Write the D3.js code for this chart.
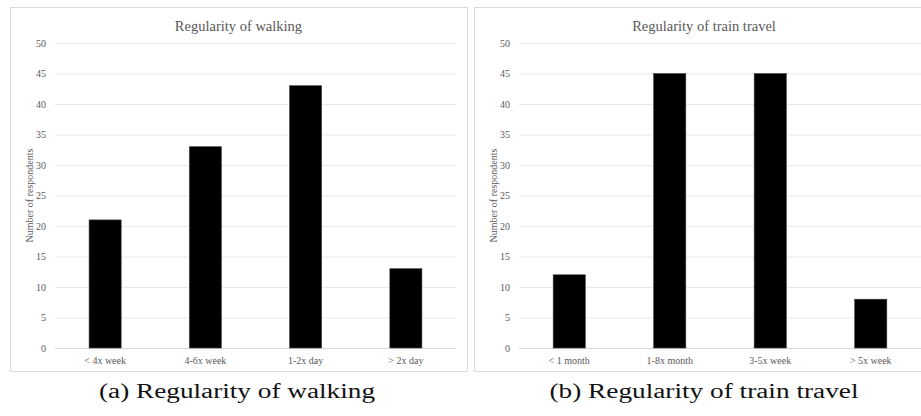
<!DOCTYPE html>
<html>
<head>
<meta charset="utf-8">
<script src="https://cdn.jsdelivr.net/npm/d3@7"></script>
<style>
  body { margin: 0; background: #fff; }
  svg { display: block; }
  svg text { font-family: "Liberation Serif", "Times New Roman", "DejaVu Serif", serif; }
</style>
</head>
<body>
<svg id="chart" width="921" height="416"></svg>
<script>
// data
const walkCategories = ["< 4x week", "4-6x week", "1-2x day", "> 2x day"];
const walkValues = [21, 33, 43, 13];
const trainCategories = ["< 1 month", "1-8x month", "3-5x week", "> 5x week"];
const trainValues = [12, 45, 45, 8];
const yTicks = [0, 5, 10, 15, 20, 25, 30, 35, 40, 45, 50];

const SERIF = "'Liberation Serif', 'Times New Roman', serif";
const svg = d3.select("#chart");

function drawPanel(opts) {
    const box = opts.box,
        plot = { left: box.x + 45, right: opts.plotRight, top: 43, bottom: 348 },
        g = svg.append("g");

    // chart frame
    g.append("rect")
        .attr("x", box.x + 0.5)
        .attr("y", box.y + 0.5)
        .attr("width", box.w)
        .attr("height", box.h)
        .attr("fill", "#fff")
        .attr("stroke", "#d9d9d9");

    const x = d3.scaleBand()
        .domain(opts.categories)
        .range([plot.left, plot.right])
        .paddingInner(0.68)
        .paddingOuter(0.34);

    const y = d3.scaleLinear()
        .domain([0, 50])
        .range([plot.bottom, plot.top]);

    // gridlines + tick labels
    const yAxis = g.append("g")
        .attr("transform", "translate(" + plot.left + ",0)")
        .call(d3.axisLeft(y).tickValues(yTicks).tickSize(-(plot.right - plot.left)).tickPadding(9));
    yAxis.attr("font-family", null);
    yAxis.select(".domain").remove();
    yAxis.selectAll(".tick line")
        .attr("stroke", d => d === 0 ? "#d9d9d9" : "#e8e8e8")
        .attr("stroke-width", 1);
    yAxis.selectAll(".tick text")
        .attr("fill", "#595959")
        .style("font-size", "10px")
        .style("font-family", SERIF);

    // bars
    g.append("g")
        .selectAll("rect")
        .data(opts.values)
        .enter()
        .append("rect")
        .attr("x", (d, i) => x(opts.categories[i]))
        .attr("y", d => y(d))
        .attr("width", x.bandwidth())
        .attr("height", d => y(0) - y(d))
        .attr("fill", "#000")
        .attr("stroke", "#404040")
        .attr("stroke-width", 0.6);

    // category labels
    const xAxis = g.append("g")
        .attr("transform", "translate(0," + plot.bottom + ")")
        .call(d3.axisBottom(x).tickSize(0).tickPadding(9));
    xAxis.attr("font-family", null);
    xAxis.select(".domain").remove();
    xAxis.selectAll(".tick text")
        .attr("fill", "#595959")
        .style("font-size", "10px")
        .style("font-family", SERIF);

    // title
    g.append("text")
        .attr("x", box.x + box.w / 2)
        .attr("y", 31)
        .attr("text-anchor", "middle")
        .attr("fill", "#595959")
        .style("font-family", SERIF)
        .style("font-size", "14.5px")
        .text(opts.title);

    // y label
    g.append("text")
        .attr("transform", "rotate(-90)")
        .attr("x", -(plot.top + plot.bottom) / 2)
        .attr("y", box.x + 23)
        .attr("text-anchor", "middle")
        .attr("fill", "#595959")
        .style("font-family", SERIF)
        .style("font-size", "10px")
        .text("Number of respondents");

    // caption under the frame (LaTeX style, wider than Times)
    g.append("text")
        .attr("x", opts.captionX)
        .attr("y", 398)
        .attr("text-anchor", "middle")
        .attr("fill", "#111")
        .attr("textLength", opts.captionW)
        .attr("lengthAdjust", "spacingAndGlyphs")
        .style("font-family", SERIF)
        .style("font-size", "20px")
        .text(opts.caption);
}

drawPanel({
    box: { x: 10, y: 7, w: 457, h: 364 },
    plotRight: 456,
    categories: walkCategories,
    values: walkValues,
    title: "Regularity of walking",
    caption: "(a) Regularity of walking",
    captionX: 237,
    captionW: 276
});

drawPanel({
    box: { x: 474, y: 7, w: 460, h: 364 },
    plotRight: 921,
    categories: trainCategories,
    values: trainValues,
    title: "Regularity of train travel",
    caption: "(b) Regularity of train travel",
    captionX: 704,
    captionW: 309
});
</script>
</body>
</html>
